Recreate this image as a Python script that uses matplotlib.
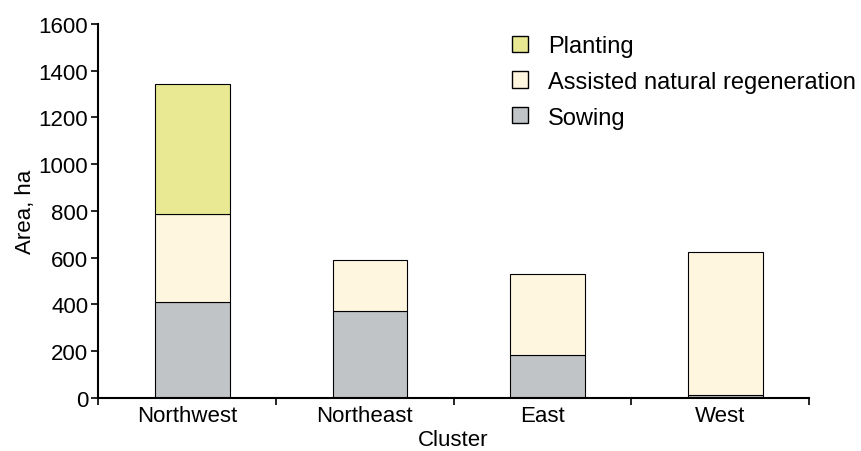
import matplotlib
matplotlib.use("Agg")
import matplotlib.pyplot as plt
from matplotlib.patches import Patch
import numpy as np

plt.rcParams['font.family'] = ['Liberation Sans', 'DejaVu Sans']

clusters = ["Northwest", "Northeast", "East", "West"]
sowing = [410, 370, 185, 12]
assisted = [376, 219, 344, 611]
planting = [557, 0, 0, 0]

c_sow = "#c1c4c6"
c_anr = "#fef6df"
c_plant = "#e9e993"

fig = plt.figure(figsize=(8.62, 4.52), dpi=100)
ax = fig.add_axes([0.1137, 0.1173, 0.825, 0.8274])

x = np.arange(len(clusters))
w = 0.42
ax.bar(x + 0.03, sowing, w, color=c_sow, edgecolor="black", linewidth=0.8)
ax.bar(x + 0.03, assisted, w, bottom=sowing, color=c_anr, edgecolor="black", linewidth=0.8)
bot2 = np.array(sowing) + np.array(assisted)
ax.bar(x[0] + 0.03, planting[0], w, bottom=bot2[0], color=c_plant, edgecolor="black", linewidth=0.8)

ax.set_xlim(-0.5, 3.5)
ax.set_ylim(0, 1600)
ax.set_yticks(range(0, 1601, 200))
ax.set_xticks(x)
ax.set_xticklabels(clusters)
ax.set_xticks(np.arange(-0.5, 4, 1), minor=True)
ax.tick_params(axis="x", which="major", length=0, labelsize=16, pad=5)
ax.tick_params(axis="x", which="minor", length=5, width=1.2)
ax.tick_params(axis="y", length=5, width=1.2, labelsize=16, pad=2)

for s in ["top", "right"]:
    ax.spines[s].set_visible(False)
ax.spines["left"].set_linewidth(1.5)
ax.spines["bottom"].set_linewidth(1.5)

ax.set_xlabel("Cluster", fontsize=16, labelpad=2)
ax.set_ylabel("Area, ha", fontsize=16, labelpad=2)

handles = [Patch(facecolor=c_plant, edgecolor="black", label="Planting"),
           Patch(facecolor=c_anr, edgecolor="black", label="Assisted natural regeneration"),
           Patch(facecolor=c_sow, edgecolor="black", label="Sowing")]
fig.legend(handles=handles, loc="upper left", bbox_to_anchor=(0.594, 0.92), frameon=False,
           fontsize=17, handlelength=0.68, handleheight=0.68, handletextpad=0.85,
           labelspacing=0.58, borderaxespad=0, borderpad=0)

fig.savefig("out.png", dpi=100)
